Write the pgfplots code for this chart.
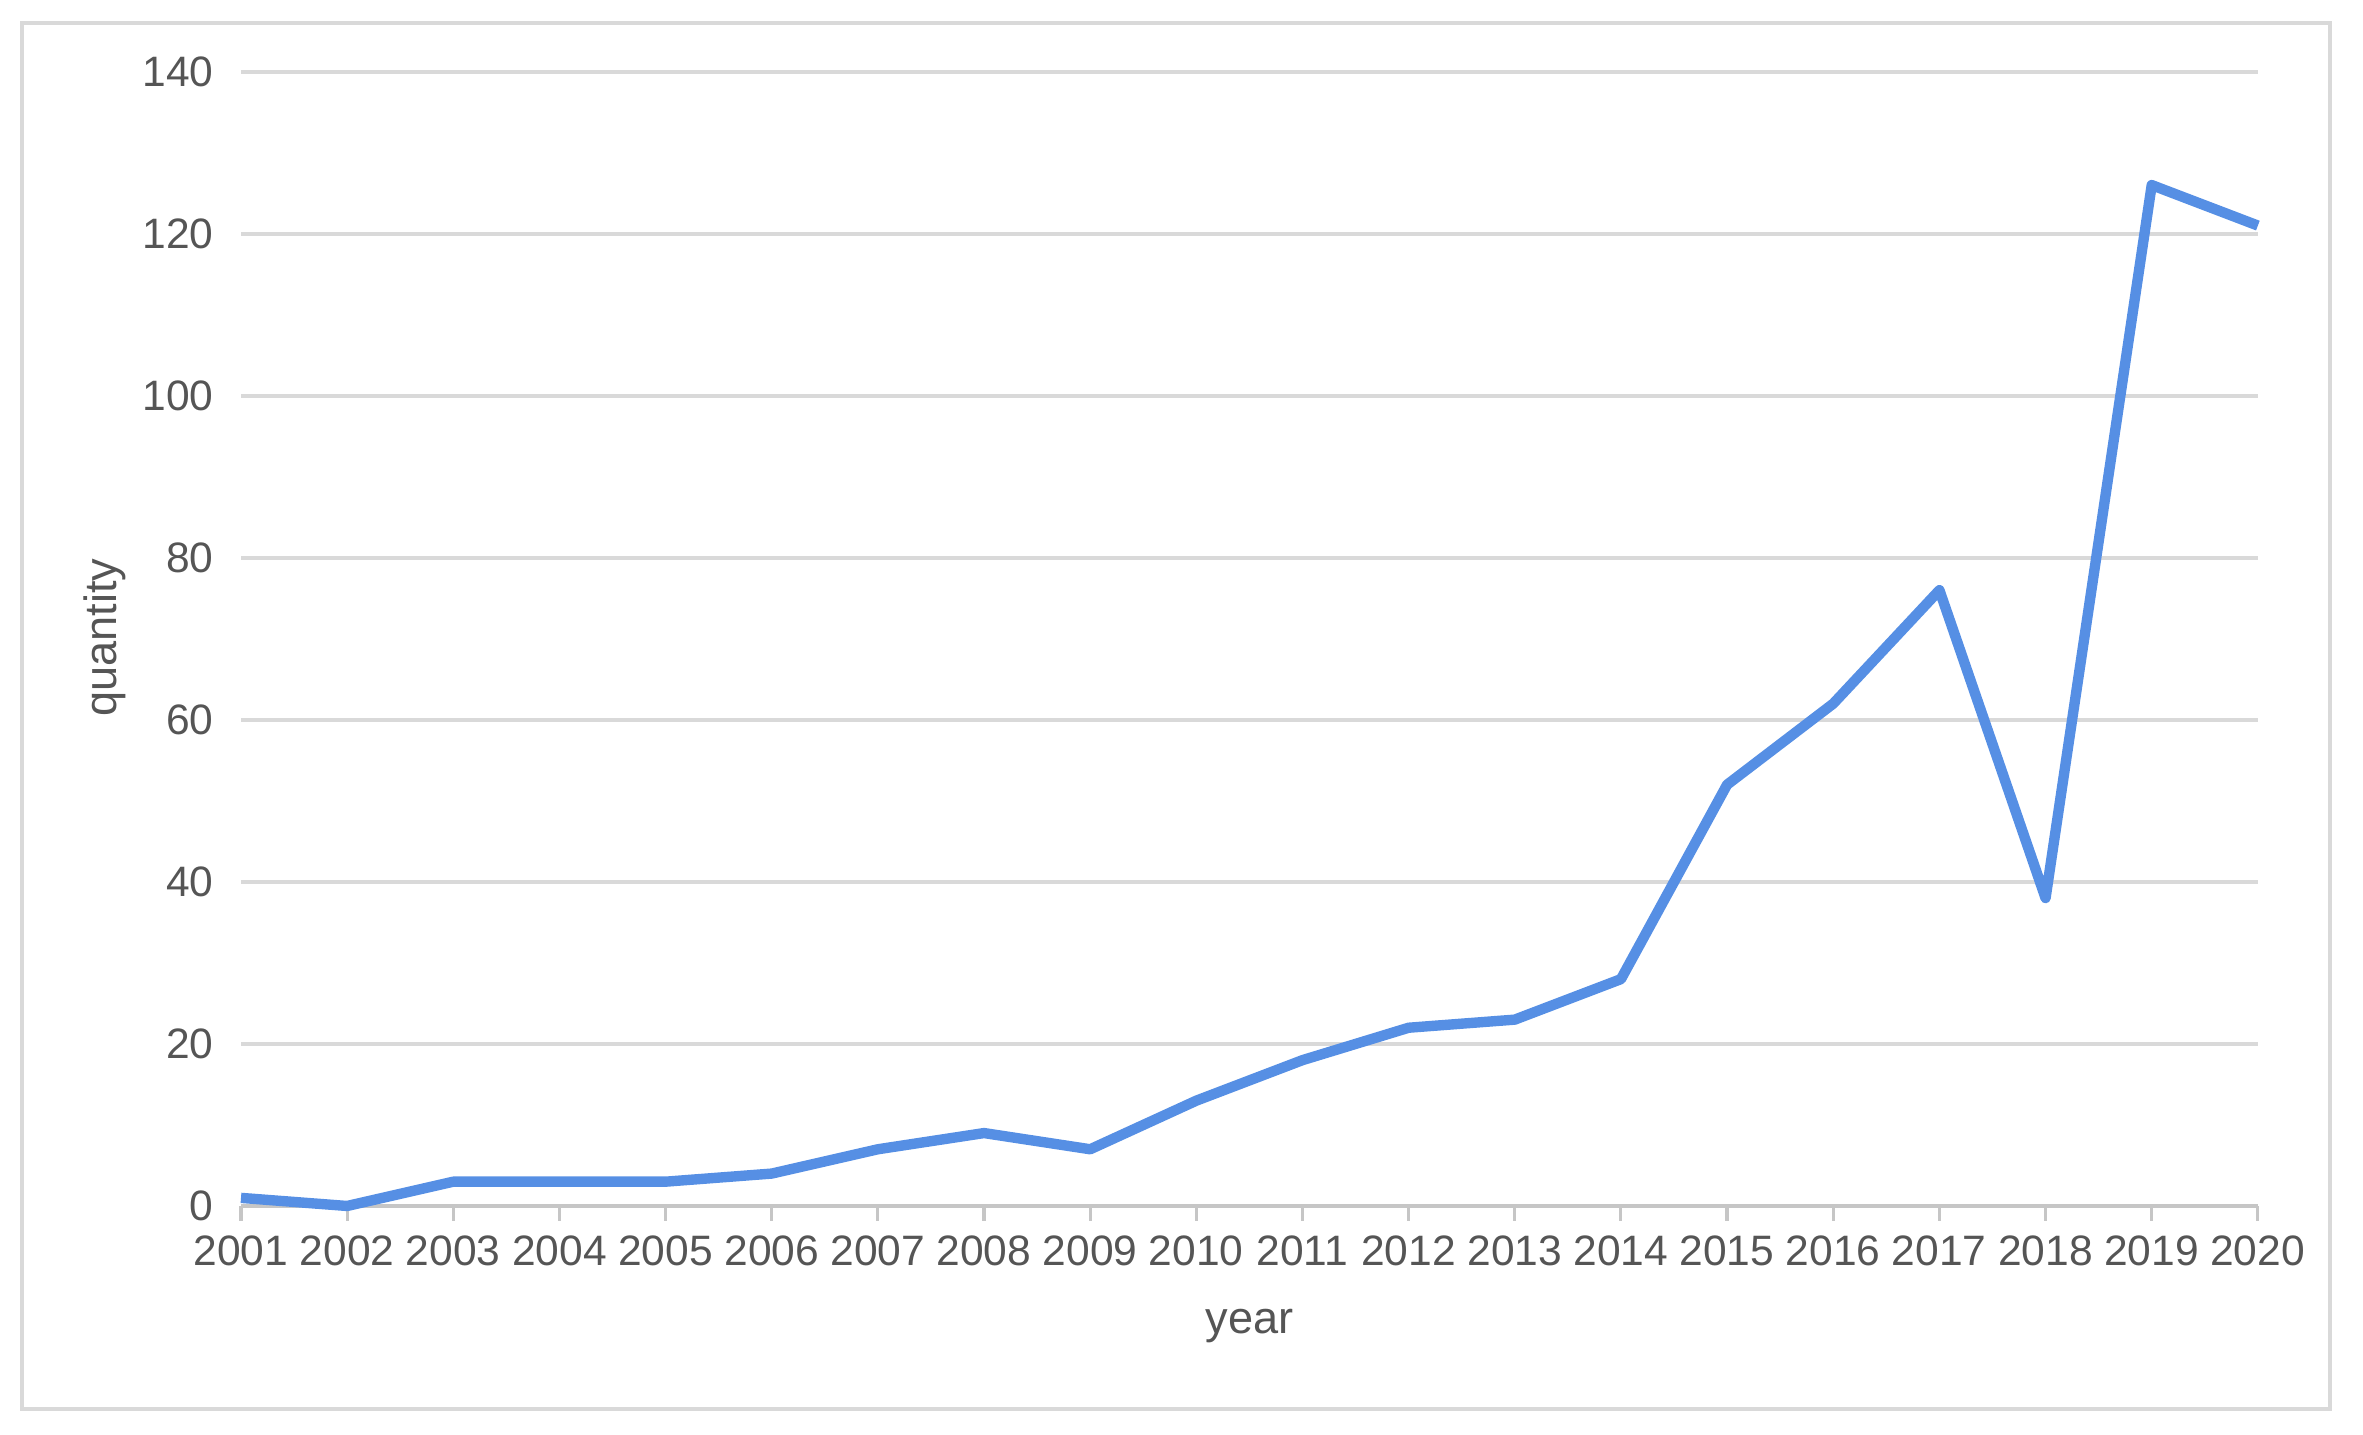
\documentclass[border=0pt]{standalone}
\usepackage{fontspec}
\setmainfont{Liberation Sans}
\usepackage{pgfplots}
\pgfplotsset{compat=1.18}
\definecolor{lineblue}{RGB}{86,143,228}
\definecolor{gridgray}{RGB}{217,217,217}
\definecolor{txtgray}{RGB}{85,85,85}
\begin{document}
\begin{tikzpicture}
\begin{axis}[
  at={(0,0)}, anchor=south west,
  scale only axis,
  width=13.664cm, height=7.685cm,
  xmin=2001, xmax=2020, ymin=0, ymax=140,
  xtick={2001,...,2020},
  ytick={0,20,...,140},
  /pgf/number format/assume math mode=true,
  xticklabel={\pgfmathprintnumber[1000 sep={}]{\tick}},
  axis x line*=bottom, axis y line*=left,
  y axis line style={draw=none},
  x axis line style={draw=gray!45, line width=0.8pt},
  ymajorgrids, grid style={gridgray, line width=0.75pt},
  tick align=outside,
  xtick style={draw=gray!45, line width=0.6pt},
  ytick style={draw=none},
  major tick length=0.1cm,
  tick label style={font=\fontsize{8.2}{10}\selectfont, text=txtgray},
  yticklabel style={anchor=east, inner sep=0pt, xshift=-0.08cm},
  xticklabel style={anchor=north, inner sep=0pt, yshift=-0.095cm},
  xlabel={year}, ylabel={quantity},
  label style={font=\fontsize{8.7}{10}\selectfont, text=txtgray},
  xlabel style={at={(axis description cs:0.5,-0.1057)}, anchor=center},
  ylabel style={at={(axis description cs:-0.0674,0.501)}, anchor=center, rotate=0},
  clip=false,
]
\addplot[lineblue, line width=2pt, line join=round] coordinates {
  (2001,1) (2002,0) (2003,3) (2004,3) (2005,3) (2006,4) (2007,7)
  (2008,9) (2009,7) (2010,13) (2011,18) (2012,22) (2013,23) (2014,28)
  (2015,52) (2016,62) (2017,76) (2018,38) (2019,126) (2020,121)
};
\end{axis}
\begin{scope}[shift={(current axis.south west)}, x=0.006771cm, y=0.006771cm]
  \draw[gridgray, line width=0.6pt] (-219,-203) rectangle (2089,1183);
  \path (-241,-229) rectangle (2122,1206);
\end{scope}
\end{tikzpicture}
\end{document}
